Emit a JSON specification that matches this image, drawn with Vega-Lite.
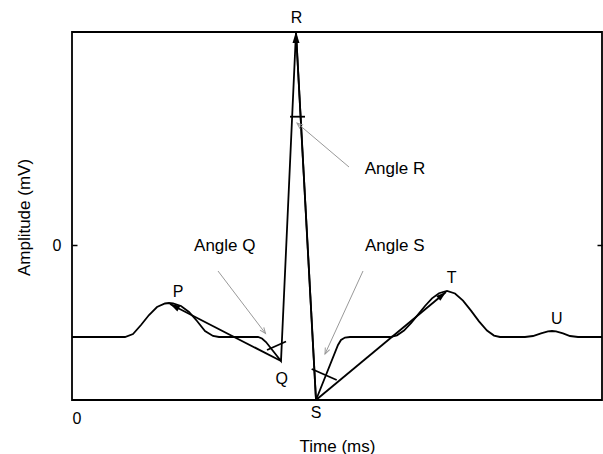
{
  "$schema": "https://vega.github.io/schema/vega-lite/v6.json",
  "width": 530,
  "height": 368,
  "autosize": {"type": "none"},
  "padding": {"left": 72, "top": 32, "right": 1, "bottom": 54},
  "config": {
    "view": {"stroke": "black", "strokeWidth": 1.8},
    "font": "Liberation Sans",
    "axis": {
      "domain": false, "grid": false,
      "labelColor": "black", "titleColor": "black",
      "labelFont": "Liberation Sans", "titleFont": "Liberation Sans",
      "labelFontSize": 16, "titleFontSize": 17, "titleFontWeight": "normal",
      "tickColor": "black", "tickWidth": 1.5
    }
  },
  "datasets": {
    "ecg": [
      {"t": 0, "a": -0.92}, {"t": 53, "a": -0.92}, {"t": 61, "a": -0.89}, {"t": 69, "a": -0.8},
      {"t": 77, "a": -0.7}, {"t": 85, "a": -0.62}, {"t": 93, "a": -0.585}, {"t": 97, "a": -0.58},
      {"t": 101, "a": -0.585}, {"t": 109, "a": -0.61}, {"t": 117, "a": -0.67}, {"t": 125, "a": -0.76},
      {"t": 133, "a": -0.86}, {"t": 141, "a": -0.91}, {"t": 147, "a": -0.92}, {"t": 186, "a": -0.92},
      {"t": 190, "a": -0.935}, {"t": 194, "a": -0.97}, {"t": 209, "a": -1.16}, {"t": 224, "a": 2.13},
      {"t": 244, "a": -1.55}, {"t": 266, "a": -1.0}, {"t": 269, "a": -0.95}, {"t": 273, "a": -0.925},
      {"t": 278, "a": -0.92}, {"t": 318, "a": -0.92}, {"t": 325, "a": -0.903}, {"t": 332, "a": -0.855},
      {"t": 339, "a": -0.782}, {"t": 346, "a": -0.696}, {"t": 353, "a": -0.61}, {"t": 360, "a": -0.534},
      {"t": 367, "a": -0.482}, {"t": 375, "a": -0.46}, {"t": 383, "a": -0.485}, {"t": 391, "a": -0.556},
      {"t": 399, "a": -0.656}, {"t": 407, "a": -0.764}, {"t": 415, "a": -0.855}, {"t": 422, "a": -0.906},
      {"t": 428, "a": -0.92}, {"t": 453, "a": -0.92}, {"t": 461, "a": -0.91}, {"t": 469, "a": -0.883},
      {"t": 476, "a": -0.863}, {"t": 480, "a": -0.86}, {"t": 484, "a": -0.863}, {"t": 491, "a": -0.883},
      {"t": 498, "a": -0.91}, {"t": 506, "a": -0.92}, {"t": 530, "a": -0.92}
    ],
    "lines": [
      {"id": "QP", "t1": 209, "a1": -1.16, "t2": 98, "a2": -0.59},
      {"id": "ST", "t1": 244, "a1": -1.55, "t2": 374, "a2": -0.47},
      {"id": "SR", "t1": 244, "a1": -1.55, "t2": 224, "a2": 2.13},
      {"id": "chordQ", "t1": 195, "a1": -1.05, "t2": 214, "a2": -0.965},
      {"id": "chordS", "t1": 239.7, "a1": -1.24, "t2": 264.7, "a2": -1.35},
      {"id": "chordR", "t1": 218, "a1": 1.283, "t2": 233, "a2": 1.283}
    ],
    "pointers": [
      {"id": "Q", "t1": 146, "a1": -0.26, "t2": 193.5, "a2": -0.885},
      {"id": "S", "t1": 291, "a1": -0.26, "t2": 253, "a2": -1.09},
      {"id": "R", "t1": 277, "a1": 0.78, "t2": 225, "a2": 1.22}
    ],
    "heads": [
      {"id": "R", "t": 224, "a": 2.13},
      {"id": "P", "t": 98, "a": -0.59},
      {"id": "T", "t": 374, "a": -0.47}
    ],
    "labels": [
      {"text": "P", "kind": "wave", "t": 106, "a": -0.47},
      {"text": "Q", "kind": "wave", "t": 209.7, "a": -1.335},
      {"text": "R", "kind": "wave", "t": 224.5, "a": 2.267},
      {"text": "S", "kind": "wave", "t": 244, "a": -1.675},
      {"text": "T", "kind": "wave", "t": 379.7, "a": -0.333},
      {"text": "U", "kind": "wave", "t": 484.7, "a": -0.74},
      {"text": "Angle Q", "kind": "angle", "t": 152.8, "a": -0.01},
      {"text": "Angle S", "kind": "angle", "t": 322.8, "a": -0.01},
      {"text": "Angle R", "kind": "angle", "t": 323, "a": 0.757}
    ]
  },
  "resolve": {"axis": {"y": "independent", "x": "independent"}},
  "layer": [
    {
      "data": {"name": "ecg"},
      "mark": {"type": "line", "color": "black", "strokeWidth": 1.8, "interpolate": "linear"},
      "encoding": {
        "x": {"field": "t", "type": "quantitative", "scale": {"domain": [0, 530], "nice": false, "zero": false},
              "axis": {"orient": "bottom", "values": [0], "ticks": false, "labelPadding": 10, "title": "Time (ms)", "titleY": 51, "titleBaseline": "alphabetic"}},
        "y": {"field": "a", "type": "quantitative", "scale": {"domain": [-1.55, 2.13], "nice": false, "zero": false},
              "axis": {"orient": "left", "values": [0], "tickSize": -5, "labelPadding": 16, "title": "Amplitude (mV)", "titleX": -48, "titleY": 185, "titleBaseline": "middle"}}
      }
    },
    {
      "data": {"name": "lines"},
      "mark": {"type": "rule", "color": "black", "strokeWidth": 1.8},
      "encoding": {
        "x": {"field": "t1", "type": "quantitative", "scale": {"domain": [0, 530], "nice": false, "zero": false}, "axis": null},
        "y": {"field": "a1", "type": "quantitative", "scale": {"domain": [-1.55, 2.13], "nice": false, "zero": false},
              "axis": {"orient": "right", "values": [0], "tickSize": -5, "labels": false, "title": null}},
        "x2": {"field": "t2"},
        "y2": {"field": "a2"}
      }
    },
    {
      "data": {"name": "pointers"},
      "mark": {"type": "rule", "color": "#999999", "strokeWidth": 1},
      "encoding": {
        "x": {"field": "t1", "type": "quantitative", "scale": {"domain": [0, 530], "nice": false, "zero": false}, "axis": null},
        "y": {"field": "a1", "type": "quantitative", "scale": {"domain": [-1.55, 2.13], "nice": false, "zero": false}, "axis": null},
        "x2": {"field": "t2"},
        "y2": {"field": "a2"}
      }
    },
    {
      "data": {"name": "heads"},
      "transform": [{"filter": "datum.id === 'R'"}],
      "mark": {"type": "point", "shape": "M0,0L0.32,1L-0.32,1Z", "size": 484, "filled": true, "color": "black", "opacity": 1, "angle": 0},
      "encoding": {
        "x": {"field": "t", "type": "quantitative", "scale": {"domain": [0, 530], "nice": false, "zero": false}, "axis": null},
        "y": {"field": "a", "type": "quantitative", "scale": {"domain": [-1.55, 2.13], "nice": false, "zero": false}, "axis": null}
      }
    },
    {
      "data": {"name": "heads"},
      "transform": [{"filter": "datum.id === 'P'"}],
      "mark": {"type": "point", "shape": "M0,0L0.32,1L-0.32,1Z", "size": 400, "filled": true, "color": "black", "opacity": 1, "angle": 297.6},
      "encoding": {
        "x": {"field": "t", "type": "quantitative", "scale": {"domain": [0, 530], "nice": false, "zero": false}, "axis": null},
        "y": {"field": "a", "type": "quantitative", "scale": {"domain": [-1.55, 2.13], "nice": false, "zero": false}, "axis": null}
      }
    },
    {
      "data": {"name": "heads"},
      "transform": [{"filter": "datum.id === 'T'"}],
      "mark": {"type": "point", "shape": "M0,0L0.32,1L-0.32,1Z", "size": 400, "filled": true, "color": "black", "opacity": 1, "angle": 50.2},
      "encoding": {
        "x": {"field": "t", "type": "quantitative", "scale": {"domain": [0, 530], "nice": false, "zero": false}, "axis": null},
        "y": {"field": "a", "type": "quantitative", "scale": {"domain": [-1.55, 2.13], "nice": false, "zero": false}, "axis": null}
      }
    },
    {
      "data": {"name": "pointers"},
      "transform": [{"filter": "datum.id === 'Q'"}],
      "mark": {"type": "point", "shape": "M-0.4,1L0,0L0.4,1", "size": 144, "filled": false, "color": "#999999", "strokeWidth": 1, "opacity": 1, "angle": 142.8},
      "encoding": {
        "x": {"field": "t2", "type": "quantitative", "scale": {"domain": [0, 530], "nice": false, "zero": false}, "axis": null},
        "y": {"field": "a2", "type": "quantitative", "scale": {"domain": [-1.55, 2.13], "nice": false, "zero": false}, "axis": null}
      }
    },
    {
      "data": {"name": "pointers"},
      "transform": [{"filter": "datum.id === 'S'"}],
      "mark": {"type": "point", "shape": "M-0.4,1L0,0L0.4,1", "size": 144, "filled": false, "color": "#999999", "strokeWidth": 1, "opacity": 1, "angle": 204.6},
      "encoding": {
        "x": {"field": "t2", "type": "quantitative", "scale": {"domain": [0, 530], "nice": false, "zero": false}, "axis": null},
        "y": {"field": "a2", "type": "quantitative", "scale": {"domain": [-1.55, 2.13], "nice": false, "zero": false}, "axis": null}
      }
    },
    {
      "data": {"name": "pointers"},
      "transform": [{"filter": "datum.id === 'R'"}],
      "mark": {"type": "point", "shape": "M-0.4,1L0,0L0.4,1", "size": 144, "filled": false, "color": "#999999", "strokeWidth": 1, "opacity": 1, "angle": 310.2},
      "encoding": {
        "x": {"field": "t2", "type": "quantitative", "scale": {"domain": [0, 530], "nice": false, "zero": false}, "axis": null},
        "y": {"field": "a2", "type": "quantitative", "scale": {"domain": [-1.55, 2.13], "nice": false, "zero": false}, "axis": null}
      }
    },
    {
      "data": {"name": "labels"},
      "transform": [{"filter": "datum.kind === 'wave'"}],
      "mark": {"type": "text", "font": "Liberation Sans", "fontSize": 16, "color": "black", "align": "center", "baseline": "middle"},
      "encoding": {
        "x": {"field": "t", "type": "quantitative", "scale": {"domain": [0, 530], "nice": false, "zero": false}, "axis": null},
        "y": {"field": "a", "type": "quantitative", "scale": {"domain": [-1.55, 2.13], "nice": false, "zero": false}, "axis": null},
        "text": {"field": "text"}
      }
    },
    {
      "data": {"name": "labels"},
      "transform": [{"filter": "datum.kind === 'angle'"}],
      "mark": {"type": "text", "font": "Liberation Sans", "fontSize": 17, "color": "black", "align": "center", "baseline": "middle"},
      "encoding": {
        "x": {"field": "t", "type": "quantitative", "scale": {"domain": [0, 530], "nice": false, "zero": false}, "axis": null},
        "y": {"field": "a", "type": "quantitative", "scale": {"domain": [-1.55, 2.13], "nice": false, "zero": false}, "axis": null},
        "text": {"field": "text"}
      }
    }
  ]
}
